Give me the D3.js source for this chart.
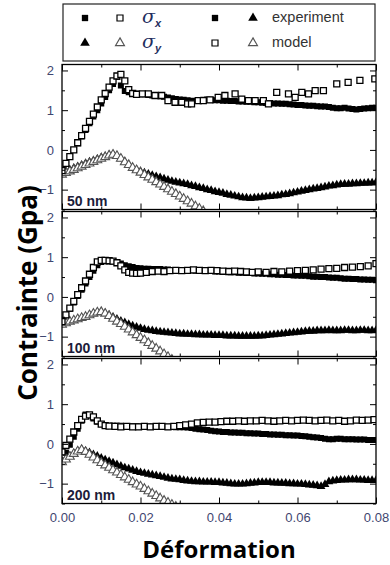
<!DOCTYPE html>
<html><head><meta charset="utf-8">
<script src="https://cdn.jsdelivr.net/npm/d3@7"></script>
<style>body{margin:0;background:#fff}svg{display:block}</style>
</head><body><svg id="c" width="390" height="565"></svg>
<script>
// ---------- DATA ----------
const strain = [0.000,0.001,0.002,0.003,0.004,0.005,0.006,0.007,0.008,0.009,
 0.010,0.011,0.012,0.013,0.014,0.015,0.016,0.017,0.018,0.019,
 0.020,0.021,0.022,0.023,0.024,0.025,0.026,0.027,0.028,0.029,
 0.030,0.031,0.032,0.033,0.034,0.035,0.036,0.037,0.038,0.039,
 0.040,0.041,0.042,0.043,0.044,0.045,0.046,0.047,0.048,0.049,
 0.050,0.051,0.052,0.053,0.054,0.055,0.056,0.057,0.058,0.059,
 0.060,0.061,0.062,0.063,0.064,0.065,0.066,0.067,0.068,0.069,
 0.070,0.071,0.072,0.073,0.074,0.075,0.076,0.077,0.078,0.079,0.080];

const panelLabels = ["50 nm", "100 nm", "200 nm"];
const xTicks = [0, 0.02, 0.04, 0.06, 0.08];
const xTickLabels = ["0.00", "0.02", "0.04", "0.06", "0.08"];
const xMinorTicks = [0.01, 0.03, 0.05, 0.07];
const yTicks = [-1, 0, 1, 2];
const yMinorTicks = [-1.5, -0.5, 0.5, 1.5];

// 50 nm
const expSx50 = [-0.50,-0.35,-0.18,0.00,0.17,0.34,0.50,0.67,0.84,1.00,
 1.17,1.33,1.50,1.66,1.84,1.62,1.48,1.45,1.43,1.42,
 1.40,1.40,1.38,1.37,1.36,1.35,1.34,1.32,1.30,1.28,
 1.27,1.26,1.25,1.24,1.23,1.24,1.26,1.27,1.26,1.25,
 1.25,1.24,1.24,1.23,1.23,1.22,1.22,1.21,1.21,1.20,
 1.20,1.19,1.18,1.18,1.17,1.17,1.16,1.16,1.15,1.14,
 1.13,1.13,1.12,1.11,1.11,1.10,1.09,1.09,1.08,1.06,
 1.05,1.05,1.06,1.04,1.03,1.02,1.03,1.04,1.05,1.06,1.06];
const expSy50 = [-0.58,-0.54,-0.50,-0.46,-0.42,-0.38,-0.34,-0.30,-0.27,-0.23,
 -0.19,-0.16,-0.13,-0.11,-0.15,-0.22,-0.30,-0.38,-0.45,-0.50,
 -0.54,-0.58,-0.61,-0.64,-0.67,-0.70,-0.73,-0.76,-0.79,-0.81,
 -0.83,-0.85,-0.87,-0.90,-0.92,-0.95,-0.97,-1.00,-1.02,-1.05,
 -1.07,-1.09,-1.12,-1.14,-1.16,-1.18,-1.20,-1.21,-1.22,-1.21,
 -1.20,-1.19,-1.18,-1.17,-1.16,-1.15,-1.13,-1.12,-1.10,-1.08,
 -1.06,-1.04,-1.02,-1.00,-0.98,-0.97,-0.95,-0.93,-0.91,-0.90,
 -0.88,-0.87,-0.86,-0.86,-0.85,-0.85,-0.84,-0.84,-0.83,-0.83,-0.82];
const modSxStrain50 = [0.000,0.001,0.002,0.003,0.004,0.005,0.006,0.007,0.008,0.009,
 0.010,0.011,0.012,0.013,0.014,0.015,0.016,0.017,0.018,0.019,
 0.0205,0.022,0.0237,0.0254,0.027,0.0288,0.0305,0.032,0.033,0.0347,
 0.036,0.0377,0.0398,0.0415,0.0441,0.0458,0.0475,0.0492,0.0513,0.0526,
 0.0547,0.0577,0.0594,0.0611,0.0628,0.0645,0.0666,0.070,0.0729,0.0759,0.0797];
const modSx50 = [-0.52,-0.34,-0.17,0.00,0.18,0.36,0.54,0.72,0.90,1.08,
 1.26,1.42,1.58,1.74,1.86,1.90,1.74,1.52,1.42,1.40,
 1.41,1.41,1.37,1.37,1.24,1.20,1.20,1.16,1.16,1.24,
 1.24,1.26,1.32,1.37,1.41,1.28,1.24,1.24,1.24,1.16,
 1.45,1.41,1.32,1.45,1.41,1.49,1.49,1.66,1.70,1.75,1.79];
const modSy50 = [-0.62,-0.58,-0.54,-0.50,-0.46,-0.42,-0.38,-0.34,-0.30,-0.26,
 -0.22,-0.18,-0.14,-0.12,-0.15,-0.22,-0.31,-0.38,-0.45,-0.51,
 -0.57,-0.63,-0.69,-0.75,-0.81,-0.87,-0.93,-0.99,-1.05,-1.11,
 -1.17,-1.23,-1.29,-1.35,-1.42,-1.48,-1.54];

// 100 nm
const expSx100 = [-0.62,-0.46,-0.30,-0.14,0.02,0.18,0.34,0.50,0.66,0.80,
 0.88,0.90,0.90,0.89,0.87,0.84,0.80,0.77,0.75,0.73,
 0.72,0.71,0.71,0.70,0.70,0.70,0.69,0.69,0.68,0.68,
 0.68,0.67,0.67,0.67,0.66,0.66,0.66,0.65,0.65,0.64,
 0.64,0.63,0.63,0.62,0.62,0.61,0.61,0.60,0.60,0.59,
 0.59,0.58,0.58,0.57,0.57,0.56,0.56,0.55,0.55,0.54,
 0.54,0.53,0.53,0.52,0.51,0.51,0.50,0.50,0.49,0.48,
 0.48,0.47,0.46,0.46,0.45,0.45,0.44,0.44,0.43,0.43,0.42];
const expSy100 = [-0.68,-0.65,-0.62,-0.59,-0.56,-0.53,-0.50,-0.46,-0.42,-0.39,
 -0.38,-0.41,-0.46,-0.51,-0.56,-0.61,-0.65,-0.69,-0.73,-0.76,
 -0.79,-0.82,-0.84,-0.85,-0.87,-0.88,-0.89,-0.90,-0.91,-0.92,
 -0.93,-0.93,-0.94,-0.94,-0.95,-0.95,-0.96,-0.96,-0.96,-0.97,
 -0.97,-0.97,-0.98,-0.98,-0.98,-0.99,-0.99,-0.99,-0.99,-0.99,
 -0.98,-0.98,-0.97,-0.96,-0.95,-0.94,-0.93,-0.92,-0.91,-0.90,
 -0.89,-0.88,-0.87,-0.86,-0.86,-0.85,-0.85,-0.85,-0.84,-0.85,
 -0.85,-0.85,-0.84,-0.84,-0.85,-0.85,-0.84,-0.84,-0.85,-0.85,-0.84];
const modSxStrain100 = [0.000,0.001,0.002,0.003,0.004,0.005,0.006,0.007,0.008,0.009,
 0.010,0.011,0.012,0.013,0.014,0.015,0.016,0.017,0.018,0.019,0.020,
 0.0215,0.023,0.0245,0.026,0.0275,0.029,0.0305,0.032,0.0335,0.035,
 0.0365,0.038,0.0395,0.041,0.0425,0.044,0.0455,0.047,0.0485,0.050,
 0.052,0.054,0.056,0.058,0.060,0.062,0.064,0.066,0.068,0.070,
 0.072,0.074,0.076,0.078,0.080];
const modSx100 = [-0.62,-0.45,-0.28,-0.11,0.06,0.23,0.40,0.57,0.74,0.88,
 0.92,0.92,0.91,0.90,0.86,0.78,0.68,0.62,0.60,0.59,0.60,
 0.62,0.64,0.65,0.64,0.66,0.67,0.66,0.67,0.68,0.67,
 0.66,0.67,0.66,0.65,0.64,0.65,0.64,0.63,0.62,0.63,
 0.62,0.64,0.63,0.65,0.66,0.67,0.68,0.70,0.71,0.72,
 0.74,0.75,0.76,0.78,0.84];
const modSy100 = [-0.70,-0.66,-0.62,-0.59,-0.56,-0.53,-0.50,-0.46,-0.42,-0.39,
 -0.38,-0.42,-0.48,-0.55,-0.62,-0.68,-0.75,-0.82,-0.89,-0.96,
 -1.03,-1.09,-1.16,-1.23,-1.30,-1.37,-1.44,-1.51,-1.58];

// 200 nm
const expSx200 = [-0.42,-0.22,-0.02,0.18,0.38,0.58,0.74,0.72,0.64,0.56,
 0.50,0.47,0.46,0.46,0.46,0.46,0.45,0.45,0.45,0.45,
 0.44,0.44,0.44,0.44,0.44,0.43,0.43,0.43,0.43,0.42,
 0.42,0.42,0.41,0.40,0.38,0.37,0.36,0.35,0.33,0.32,
 0.31,0.30,0.30,0.29,0.29,0.28,0.28,0.27,0.27,0.26,
 0.26,0.25,0.25,0.24,0.24,0.23,0.23,0.22,0.22,0.21,
 0.21,0.20,0.19,0.18,0.17,0.16,0.15,0.13,0.12,0.12,
 0.13,0.13,0.12,0.12,0.12,0.11,0.11,0.11,0.10,0.10,0.10];
const expSy200 = [-0.45,-0.38,-0.31,-0.24,-0.18,-0.14,-0.18,-0.22,-0.27,-0.31,
 -0.36,-0.40,-0.44,-0.48,-0.52,-0.56,-0.60,-0.63,-0.66,-0.69,
 -0.72,-0.74,-0.76,-0.78,-0.80,-0.82,-0.84,-0.86,-0.88,-0.89,
 -0.90,-0.92,-0.93,-0.94,-0.95,-0.95,-0.96,-0.96,-0.96,-0.97,
 -0.97,-0.98,-0.99,-1.00,-1.01,-1.01,-1.01,-1.00,-0.99,-0.98,
 -0.97,-0.97,-0.97,-0.97,-0.98,-0.98,-0.99,-0.99,-1.00,-1.00,
 -1.01,-1.01,-1.02,-1.03,-1.04,-1.05,-1.07,-1.02,-0.95,-0.93,
 -0.92,-0.91,-0.91,-0.90,-0.90,-0.90,-0.91,-0.91,-0.92,-0.92,-0.92];
const modSxStrain200 = [0.000,0.001,0.002,0.003,0.004,0.005,0.006,0.007,0.008,0.009,
 0.010,0.011,0.012,
 0.0135,0.015,0.0165,0.018,0.0195,0.021,0.0225,0.024,0.0255,0.027,
 0.0285,0.030,0.0315,0.033,0.0345,0.036,0.0375,0.039,0.0405,0.042,
 0.0435,0.045,0.0465,0.048,0.0495,0.051,0.0525,0.054,0.0555,0.057,
 0.0585,0.060,0.0615,0.063,0.0645,0.066,0.0675,0.069,0.0705,0.072,
 0.0735,0.075,0.0765,0.078,0.0795];
const modSx200 = [-0.20,-0.04,0.12,0.30,0.46,0.62,0.70,0.73,0.68,0.58,
 0.50,0.46,0.45,
 0.44,0.43,0.44,0.43,0.43,0.44,0.43,0.44,0.44,0.43,
 0.44,0.46,0.48,0.50,0.53,0.54,0.55,0.55,0.56,0.57,
 0.57,0.58,0.57,0.58,0.58,0.59,0.58,0.57,0.58,0.59,
 0.58,0.59,0.60,0.59,0.58,0.59,0.60,0.58,0.59,0.57,
 0.58,0.60,0.59,0.60,0.61];
const modSy200 = [-0.46,-0.39,-0.32,-0.25,-0.19,-0.15,-0.20,-0.27,-0.34,-0.41,
 -0.48,-0.54,-0.60,-0.66,-0.72,-0.78,-0.84,-0.90,-0.96,-1.02,
 -1.07,-1.13,-1.19,-1.25,-1.31,-1.37,-1.43,-1.48,-1.53,-1.58,
 -1.63,-1.68];

// ---------- LAYOUT ----------
const svg = d3.select("#c");
const left = 62, right = 376;
const panelTops = [64.5, 211.5, 358.5];
const panelH = 145;
const x = d3.scaleLinear().domain([0, 0.08]).range([left, right]);

const panels = [
  {label: panelLabels[0], expSx: expSx50, expSy: expSy50, modSxX: modSxStrain50, modSx: modSx50, modSy: modSy50},
  {label: panelLabels[1], expSx: expSx100, expSy: expSy100, modSxX: modSxStrain100, modSx: modSx100, modSy: modSy100},
  {label: panelLabels[2], expSx: expSx200, expSy: expSy200, modSxX: modSxStrain200, modSx: modSx200, modSy: modSy200}
];

const tickColor = "#3f4670";
const sq = d3.symbol().type(d3.symbolSquare);
const tri = d3.symbol().type(d3.symbolTriangle);

panels.forEach((p, i) => {
  const top = panelTops[i];
  const y = d3.scaleLinear().domain([-1.5, 2.15]).range([top + panelH, top]);
  const g = svg.append("g");
  const cid = "clip" + i;
  svg.append("clipPath").attr("id", cid).append("rect")
    .attr("x", left).attr("y", top).attr("width", right - left).attr("height", panelH);
  const data = g.append("g").attr("clip-path", `url(#${cid})`);

  data.selectAll(".ex").data(strain.map((s, k) => [s, p.expSx[k]])).join("path")
    .attr("transform", d => `translate(${x(d[0])},${y(d[1])})`)
    .attr("d", sq.size(36)()).attr("fill", "#000");
  data.selectAll(".ey").data(strain.map((s, k) => [s, p.expSy[k]])).join("path")
    .attr("transform", d => `translate(${x(d[0])},${y(d[1])})`)
    .attr("d", tri.size(34)()).attr("fill", "#000");
  data.selectAll(".my").data(p.modSy.map((v, k) => [strain[k], v])).join("path")
    .attr("transform", d => `translate(${x(d[0])},${y(d[1])})`)
    .attr("d", tri.size(34)()).attr("fill", "#fff").attr("stroke", "#555").attr("stroke-width", 1.1);
  data.selectAll(".mx").data(p.modSx.map((v, k) => [p.modSxX[k], v])).join("path")
    .attr("transform", d => `translate(${x(d[0])},${y(d[1])})`)
    .attr("d", sq.size(36)()).attr("fill", "#fff").attr("stroke", "#000").attr("stroke-width", 1.3);

  const axL = g.append("g").attr("transform", `translate(${left},0)`)
    .call(d3.axisLeft(y).tickValues(yTicks).tickSize(-6).tickPadding(8).tickFormat(d3.format("d")));
  axL.select(".domain").remove();
  axL.selectAll("text").attr("fill", tickColor).style("font", "13px Arial, 'Liberation Sans', sans-serif");
  const axLm = g.append("g").attr("transform", `translate(${left},0)`)
    .call(d3.axisLeft(y).tickValues(yMinorTicks).tickSize(-3).tickFormat(""));
  axLm.select(".domain").remove();
  const axR = g.append("g").attr("transform", `translate(${right},0)`)
    .call(d3.axisRight(y).tickValues(yTicks).tickSize(-6).tickFormat(""));
  axR.select(".domain").remove();
  const axRm = g.append("g").attr("transform", `translate(${right},0)`)
    .call(d3.axisRight(y).tickValues(yMinorTicks).tickSize(-3).tickFormat(""));
  axRm.select(".domain").remove();

  const axB = g.append("g").attr("transform", `translate(0,${top + panelH})`)
    .call(d3.axisBottom(x).tickValues(xTicks).tickSize(-6).tickPadding(9)
      .tickFormat((d, k) => i === 2 ? xTickLabels[k] : ""));
  axB.select(".domain").remove();
  axB.selectAll("text").attr("fill", tickColor).style("font", "13px Arial, 'Liberation Sans', sans-serif");
  const axBm = g.append("g").attr("transform", `translate(0,${top + panelH})`)
    .call(d3.axisBottom(x).tickValues(xMinorTicks).tickSize(-3).tickFormat(""));
  axBm.select(".domain").remove();
  const axT = g.append("g").attr("transform", `translate(0,${top})`)
    .call(d3.axisTop(x).tickValues(xTicks).tickSize(-6).tickFormat(""));
  axT.select(".domain").remove();
  const axTm = g.append("g").attr("transform", `translate(0,${top})`)
    .call(d3.axisTop(x).tickValues(xMinorTicks).tickSize(-3).tickFormat(""));
  axTm.select(".domain").remove();
  g.selectAll(".tick line").attr("stroke", "#000").attr("stroke-width", 1);

  g.append("rect").attr("x", left).attr("y", top).attr("width", right - left).attr("height", panelH)
    .attr("fill", "none").attr("stroke", "#000").attr("stroke-width", 1.3);

  g.append("text").attr("x", left + 5).attr("y", top + panelH - 4)
    .attr("fill", "#1c1c3a").style("font", "bold 14px Arial, 'Liberation Sans', sans-serif")
    .text(p.label);
});

// axis titles
svg.append("text").attr("transform", `translate(37,293) rotate(-90)`)
  .attr("text-anchor", "middle").attr("fill", "#000")
  .style("font", "bold 26px 'Open Sans', sans-serif").text("Contrainte (Gpa)");
svg.append("text").attr("x", (left + right) / 2).attr("y", 558)
  .attr("text-anchor", "middle").attr("fill", "#000")
  .style("font", "bold 24px 'Open Sans', sans-serif").text("Déformation");

// ---------- LEGEND ----------
const lg = svg.append("g");
lg.append("rect").attr("x", 63).attr("y", 4).attr("width", 312).attr("height", 57)
  .attr("fill", "none").attr("stroke", "#222").attr("stroke-width", 1.2);
const legendRows = [18, 43];
const legendText = ["experiment", "model"];
const sigmaSubs = ["x", "y"];
const mk = (xx, yy, type, filled, col) => lg.append("path")
  .attr("transform", `translate(${xx},${yy})`)
  .attr("d", (type === "sq" ? sq.size(filled ? 40 : 36) : tri.size(filled ? 40 : 34))())
  .attr("fill", filled ? "#000" : "#fff").attr("stroke", filled ? "none" : col).attr("stroke-width", 1.2);
mk(85, legendRows[0], "sq", true);
mk(120, legendRows[0], "sq", false, "#000");
mk(85, legendRows[1], "tri", true);
mk(120, legendRows[1], "tri", false, "#555");
mk(215, legendRows[0], "sq", true);
mk(253, legendRows[0], "tri", true);
mk(215, legendRows[1], "sq", false, "#000");
mk(253, legendRows[1], "tri", false, "#555");
legendRows.forEach((ry, k) => {
  const t = lg.append("text").attr("x", 142).attr("y", ry + 5).attr("fill", "#1f2f60")
    .style("font", "italic 19px 'DejaVu Serif', serif");
  t.append("tspan").text("σ");
  t.append("tspan").attr("dy", 4).style("font", "bold italic 11px Arial, sans-serif").text(sigmaSubs[k]);
  lg.append("text").attr("x", 272).attr("y", ry + 4).attr("fill", "#333")
    .style("font", "14.5px Arial, 'Liberation Sans', sans-serif").text(legendText[k]);
});
</script></body></html>
